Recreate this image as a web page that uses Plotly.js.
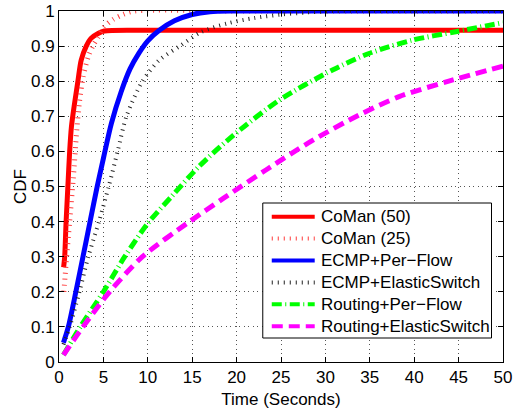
<!DOCTYPE html>
<html>
<head>
<meta charset="utf-8">
<script src="https://cdn.plot.ly/plotly-3.0.1.min.js"></script>
<style>
html,body{margin:0;padding:0;background:#fff;}
#chart{width:522px;height:414px;}
</style>
</head>
<body>
<div id="chart"></div>
<script>
// Series names
const seriesNames = ["CoMan (50)", "CoMan (25)", "ECMP+Per\u2212Flow", "ECMP+ElasticSwitch", "Routing+Per\u2212Flow", "Routing+ElasticSwitch"];

// CoMan (50)
const coman50X = [0.52, 0.64, 0.8, 1.0, 1.2, 1.4, 1.6, 1.8, 2.13, 2.5, 3.07, 3.6, 4.4, 5.1, 10, 20, 30, 40, 50];
const coman50Y = [0.27, 0.30, 0.40, 0.50, 0.60, 0.67, 0.71, 0.745, 0.80, 0.86, 0.90, 0.922, 0.936, 0.943, 0.945, 0.945, 0.945, 0.945, 0.945];

// CoMan (25)
const coman25X = [0.55, 0.8, 1.2, 1.6, 2.0, 2.3, 2.7, 3.3, 3.8, 4.4, 5.1, 6.1, 7.2, 8.5, 20, 30, 40, 50];
const coman25Y = [0.20, 0.28, 0.40, 0.52, 0.66, 0.74, 0.81, 0.87, 0.90, 0.925, 0.955, 0.976, 0.99, 1.0, 1.0, 1.0, 1.0, 1.0];

// ECMP+Per-Flow
const ecmpFlowX = [0.5, 1.05, 1.9, 2.7, 3.5, 4.3, 5.0, 5.9, 7.0, 8.0, 9.0, 10.0, 11.3, 13, 15, 17, 20, 30, 40, 50];
const ecmpFlowY = [0.055, 0.1, 0.2, 0.3, 0.4, 0.5, 0.58, 0.68, 0.77, 0.835, 0.88, 0.915, 0.945, 0.972, 0.99, 0.998, 1.0, 1.0, 1.0, 1.0];

// ECMP+ElasticSwitch
const ecmpEsX = [0.5, 1.2, 2.3, 3.3, 4.5, 5.6, 6.6, 7.6, 9.4, 11.3, 13.6, 16, 19, 22, 25, 28, 31, 40, 50];
const ecmpEsY = [0.05, 0.1, 0.2, 0.3, 0.4, 0.5, 0.6, 0.7, 0.8, 0.86, 0.9, 0.94, 0.965, 0.98, 0.99, 0.996, 1.0, 1.0, 1.0];

// Routing+Per-Flow
const routFlowX = [0.5, 2.4, 5.0, 7.4, 10.0, 12.8, 15.8, 19.6, 24.8, 30.8, 34.9, 39.8, 44.7, 50];
const routFlowY = [0.02, 0.1, 0.2, 0.3, 0.395, 0.475, 0.558, 0.645, 0.746, 0.832, 0.879, 0.917, 0.941, 0.967];

// Routing+ElasticSwitch
const routEsX = [0.5, 2.7, 5.7, 9.4, 14.7, 18.5, 23.3, 28.6, 33.8, 38.3, 43.6, 50];
const routEsY = [0.02, 0.1, 0.2, 0.3, 0.4, 0.466, 0.547, 0.632, 0.704, 0.756, 0.798, 0.843];

// Axis ticks
const xTicks = [0, 5, 10, 15, 20, 25, 30, 35, 40, 45, 50];
const yTicks = [0, 0.1, 0.2, 0.3, 0.4, 0.5, 0.6, 0.7, 0.8, 0.9, 1];

const FONT = '"Liberation Sans", Arial, Helvetica, sans-serif';
const FS = 17;

// Line styles (per series)
const styles = [
  {color: '#ff0000', width: 5, dash: 'solid'},
  {color: '#ff3b3b', width: 5, dash: '1px,5px'},
  {color: '#0000ff', width: 5, dash: 'solid'},
  {color: '#222222', width: 4, dash: '1px,5px'},
  {color: '#00ff00', width: 5, dash: '10px,3.5px,1px,3.5px'},
  {color: '#ff00ff', width: 5, dash: '11px,6px'}
];
const xs = [coman50X, coman25X, ecmpFlowX, ecmpEsX, routFlowX, routEsX];
const ys = [coman50Y, coman25Y, ecmpFlowY, ecmpEsY, routFlowY, routEsY];

const traces = xs.map((x, i) => ({
  x: x, y: ys[i], name: seriesNames[i], mode: 'lines', showlegend: false,
  line: {color: styles[i].color, width: styles[i].width, dash: styles[i].dash, shape: 'spline', smoothing: 0.8}
}));

// Plot area in pixels (layout)
const PL = 59, PR = 503.5, PT = 11, PB = 362;
const px2x = p => (p - PL) / (PR - PL);
const px2y = p => (PB - p) / (PB - PT);

// Manual legend (box, samples, labels)
const LB = {x0: 263, x1: 492, y0: 203, y1: 338};
const rowY0 = 216.7, rowDy = 21.9, sampleX0 = 272, sampleX1 = 315, textX = 319;
const shapes = [{
  type: 'rect', xref: 'paper', yref: 'paper', layer: 'above',
  x0: px2x(LB.x0), x1: px2x(LB.x1), y0: px2y(LB.y1), y1: px2y(LB.y0),
  fillcolor: '#fff', line: {color: '#000', width: 1}
}];
const annotations = [];
seriesNames.forEach((name, i) => {
  const yy = px2y(rowY0 + i * rowDy);
  shapes.push({
    type: 'line', xref: 'paper', yref: 'paper', layer: 'above',
    x0: px2x(sampleX0), x1: px2x(sampleX1), y0: yy, y1: yy,
    line: {color: styles[i].color, width: Math.min(styles[i].width, 4), dash: styles[i].dash}
  });
  annotations.push({
    xref: 'paper', yref: 'paper', x: px2x(textX), y: yy,
    xanchor: 'left', yanchor: 'middle', showarrow: false, text: name,
    font: {family: FONT, size: FS, color: '#000'}
  });
});

const axisCommon = {
  showline: true, linecolor: '#000', linewidth: 1, mirror: 'ticks',
  ticks: 'inside', ticklen: 5, tickwidth: 1, tickcolor: '#000',
  showgrid: true, gridcolor: '#555', gridwidth: 1, griddash: '1px,3.5px',
  zeroline: false, tickfont: {family: FONT, size: FS, color: '#000'}
};

const layout = {
  width: 522, height: 414,
  margin: {l: PL, r: 522 - PR, t: PT, b: 414 - PB},
  paper_bgcolor: '#fff', plot_bgcolor: '#fff',
  font: {family: FONT, size: FS, color: '#000'},
  showlegend: false,
  xaxis: Object.assign({}, axisCommon, {
    range: [0, 50], tickvals: xTicks, ticktext: xTicks.map(String),
    title: {text: 'Time (Seconds)', font: {family: FONT, size: FS, color: '#000'}, standoff: 6}
  }),
  yaxis: Object.assign({}, axisCommon, {
    range: [0, 1], tickvals: yTicks, ticktext: yTicks.map(String),
    title: {text: 'CDF', font: {family: FONT, size: FS, color: '#000'}, standoff: 0}
  }),
  shapes: shapes,
  annotations: annotations
};

Plotly.newPlot('chart', traces, layout, {displayModeBar: false, staticPlot: true});
</script>
</body>
</html>
